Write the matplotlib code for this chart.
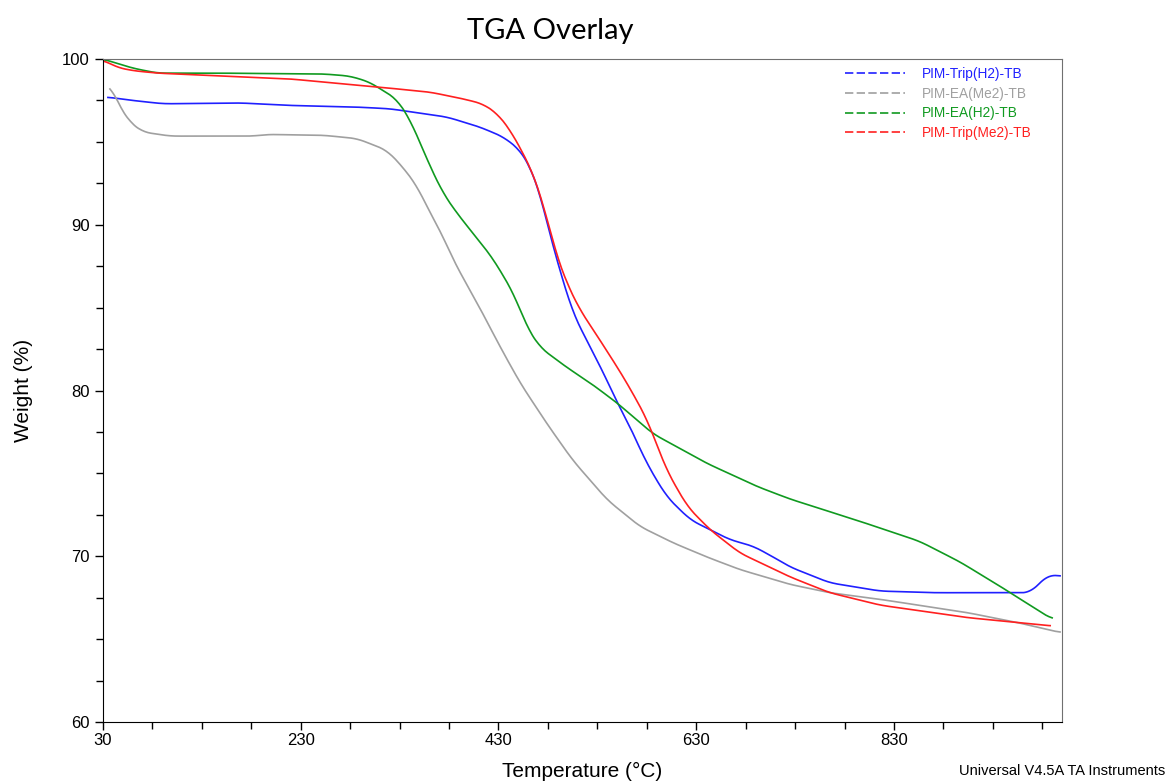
### TGA overlay of the four PIM samples, saved as out.png

import numpy as np
import matplotlib.pyplot as plt
from matplotlib.ticker import FixedLocator, MultipleLocator

# temperature (°C) / weight (%)
trip_h2_T = [35, 60, 91, 169, 219, 287, 320, 378, 411, 435, 452, 462, 472, 485, 492, 505, 523, 540,
             550, 560, 580, 600, 624, 644, 664, 688, 708, 725, 765, 816, 870, 930, 968, 986, 998]
trip_h2_W = [97.7, 97.5, 97.3, 97.35, 97.2, 97.1, 97.0, 96.5, 95.9, 95.3, 94.5, 93.5, 91.9, 88.7,
             87.3, 84.7, 82.6, 80.6, 79.25, 78.2, 75.6, 73.6, 72.2, 71.6, 71.0, 70.6, 69.95, 69.35,
             68.4, 67.9, 67.8, 67.8, 67.8, 68.9, 68.8]

ea_me2_T = [37, 47, 57, 70, 98, 182, 196, 253, 287, 317, 333, 348, 361, 374, 384, 411, 432, 452,
            479, 505, 540, 573, 607, 641, 674, 725, 765, 816, 904, 955, 998]
ea_me2_W = [98.5, 97.1, 96.2, 95.6, 95.35, 95.35, 95.45, 95.4, 95.2, 94.5, 93.5, 92.3, 90.7, 89.3,
            87.9, 85.0, 82.6, 80.45, 78.0, 75.8, 73.4, 71.8, 70.8, 69.95, 69.2, 68.3, 67.8, 67.4,
            66.6, 66.0, 65.4]

ea_h2_T = [30, 60, 85, 145, 253, 280, 300, 313, 327, 341, 351, 361, 374, 388, 404, 424, 445, 459,
           472, 499, 523, 550, 586, 641, 692, 725, 796, 856, 897, 937, 990]
ea_h2_W = [100.0, 99.45, 99.15, 99.15, 99.1, 98.97, 98.6, 98.1, 97.6, 96.3, 94.9, 93.5, 91.9, 90.7,
           89.5, 88.0, 85.9, 83.8, 82.6, 81.4, 80.45, 79.25, 77.4, 75.6, 74.2, 73.45, 72.1, 70.9,
           69.65, 68.2, 66.2]

trip_me2_T = [30, 44, 60, 85, 141, 219, 310, 361, 394, 414, 429, 442, 455, 465, 475, 489, 499, 512,
              526, 546, 560, 580, 600, 621, 644, 674, 725, 765, 816, 904, 955, 988]
trip_me2_W = [99.95, 99.5, 99.3, 99.15, 99.0, 98.8, 98.3, 98.0, 97.6, 97.3, 96.7, 95.7, 94.3, 93.1,
              91.3, 88.1, 86.5, 84.9, 83.65, 81.8, 80.45, 78.3, 75.2, 73.0, 71.6, 70.2, 68.75,
              67.8, 67.05, 66.3, 66.0, 65.8]

names = ["PIM-Trip(H2)-TB", "PIM-EA(Me2)-TB", "PIM-EA(H2)-TB", "PIM-Trip(Me2)-TB"]
colors = ["#2020ff", "#a0a0a0", "#109a20", "#ff2020"]


def smooth(T, W):
    # light smoothing between read points so the curves are not jagged
    t = np.linspace(T[0], T[-1], 600)
    w = np.interp(t, T, W)
    k = 11
    wp = np.pad(w, k // 2, mode="edge")
    w = np.convolve(wp, np.ones(k) / k, mode="valid")
    return t, w


def main():
    plt.rcParams['font.family'] = ['Liberation Sans', 'DejaVu Sans']
    fig = plt.figure(figsize=(11.69, 7.84), dpi=100)
    ax = fig.add_axes([0.0881, 0.0791, 0.8204, 0.8456])

    data = [(trip_h2_T, trip_h2_W), (ea_me2_T, ea_me2_W), (ea_h2_T, ea_h2_W), (trip_me2_T, trip_me2_W)]
    for (T, W), name, c in zip(data, names, colors):
        t, w = smooth(T, W)
        ax.plot(t, w, color=c, lw=1.2, label=name)

    ax.set_xlim(30, 1000)
    ax.set_ylim(60, 100)
    ax.set_xticks([30, 230, 430, 630, 830])
    ax.set_yticks([60, 70, 80, 90, 100])
    ax.xaxis.set_minor_locator(FixedLocator(np.arange(30, 1001, 50)))
    ax.yaxis.set_minor_locator(MultipleLocator(2.5))
    ax.tick_params(which="both", direction="out", labelsize=12, width=1, colors="black")
    ax.tick_params(which="major", length=6)
    ax.tick_params(which="minor", length=5)
    ax.tick_params(axis="x", pad=2)

    for s in ["top", "right"]:
        ax.spines[s].set_color("#707070")
    for s in ["left", "bottom"]:
        ax.spines[s].set_color("black")

    ax.set_xlabel("Temperature (°C)", fontsize=15, labelpad=10)
    ax.set_ylabel("Weight (%)", fontsize=15, labelpad=21)
    fig.text(0.471, 0.96, "TGA Overlay", fontsize=21, family=["Lato", "DejaVu Sans"],
             ha="center", va="center")
    fig.text(0.997, 0.016, "Universal V4.5A TA Instruments", fontsize=10.5, ha="right", va="center")

    handles = [plt.Line2D([], [], color=c, lw=1.2, ls=(0, (5, 2))) for c in colors]
    leg = ax.legend(handles, names, loc="upper left", bbox_to_anchor=(0.774, 0.988), frameon=False,
                    fontsize=9.8, handlelength=4.4, handletextpad=1.25, labelspacing=0.42,
                    borderaxespad=0, borderpad=0)
    for txt, c in zip(leg.get_texts(), colors):
        txt.set_color(c)

    fig.savefig("out.png", dpi=100)
    plt.close(fig)


if __name__ == "__main__":
    main()
